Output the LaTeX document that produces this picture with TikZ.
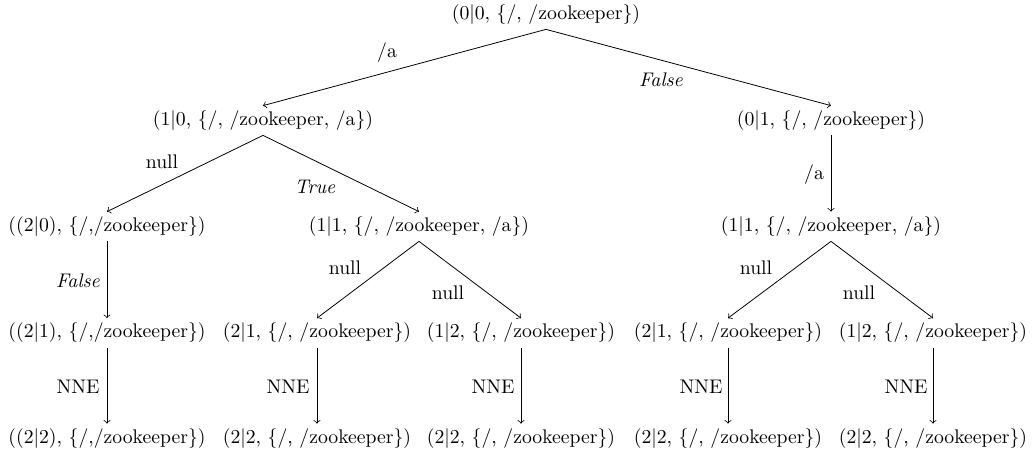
\documentclass[tikz,border=0pt]{standalone}
\begin{document}
\begin{tikzpicture}[x=0.5076pt, y=-0.5076pt,
  state/.style={inner sep=0pt, minimum height=14.7pt},
  lbl/.style={inner sep=0pt},
  conn/.style={->}]
\useasboundingbox (0,0) rectangle (1034,456);

% states
\node[state] (r)   at (546,14.5)  {(0|0, \{/, /zookeeper\})};
\node[state] (a)   at (263,120.5) {(1|0, \{/, /zookeeper, /a\})};
\node[state] (b)   at (831,120.5) {(0|1, \{/, /zookeeper\})};
\node[state] (aa)  at (107,226.5) {((2|0), \{/,/zookeeper\})};
\node[state] (ab)  at (419,226.5) {(1|1, \{/, /zookeeper, /a\})};
\node[state] (ba)  at (831,226.5) {(1|1, \{/, /zookeeper, /a\})};
\node[state] (aaa) at (107,333)   {((2|1), \{/,/zookeeper\})};
\node[state] (aba) at (317,333)   {(2|1, \{/, /zookeeper\})};
\node[state] (abb) at (521,333)   {(1|2, \{/, /zookeeper\})};
\node[state] (baa) at (728,333)   {(2|1, \{/, /zookeeper\})};
\node[state] (bab) at (933,333)   {(1|2, \{/, /zookeeper\})};
\node[state] (aaaa) at (107,438.5) {((2|2), \{/,/zookeeper\})};
\node[state] (abaa) at (317,438.5) {(2|2, \{/, /zookeeper\})};
\node[state] (abba) at (521,438.5) {(2|2, \{/, /zookeeper\})};
\node[state] (baaa) at (728,438.5) {(2|2, \{/, /zookeeper\})};
\node[state] (baba) at (933,438.5) {(2|2, \{/, /zookeeper\})};

% transitions
\draw[conn] (r.south) -- (a.north);
\draw[conn] (r.south) -- (b.north);
\draw[conn] (a.south) -- (aa.north);
\draw[conn] (a.south) -- (ab.north);
\draw[conn] (b.south) -- (ba.north);
\draw[conn] (aa.south) -- (aaa.north);
\draw[conn] (ab.south) -- (aba.north);
\draw[conn] (ab.south) -- (abb.north);
\draw[conn] (ba.south) -- (baa.north);
\draw[conn] (ba.south) -- (bab.north);
\draw[conn] (aaa.south) -- (aaaa.north);
\draw[conn] (aba.south) -- (abaa.north);
\draw[conn] (abb.south) -- (abba.north);
\draw[conn] (baa.south) -- (baaa.north);
\draw[conn] (bab.south) -- (baba.north);

% transition labels
\node[lbl] (l1)  at (387,53)  {/a};
\node[lbl] (l2)  at (661,80)  {\textit{False}};
\node[lbl] (l3)  at (162,162) {null};
\node[lbl] (l4)  at (315,187) {\textit{True}};
\node[lbl] (l5)  at (814,175) {/a};
\node[lbl] (l6)  at (78,281)  {\textit{False}};
\node[lbl] (l7)  at (345,268) {null};
\node[lbl] (l8)  at (448,293) {null};
\node[lbl] (l9)  at (756,268) {null};
\node[lbl] (l10) at (859,293) {null};
\node[lbl] (l11) at (78,387)  {NNE};
\node[lbl] (l12) at (288,387) {NNE};
\node[lbl] (l13) at (493,387) {NNE};
\node[lbl] (l14) at (701,387) {NNE};
\node[lbl] (l15) at (906,387) {NNE};
\end{tikzpicture}
\end{document}
